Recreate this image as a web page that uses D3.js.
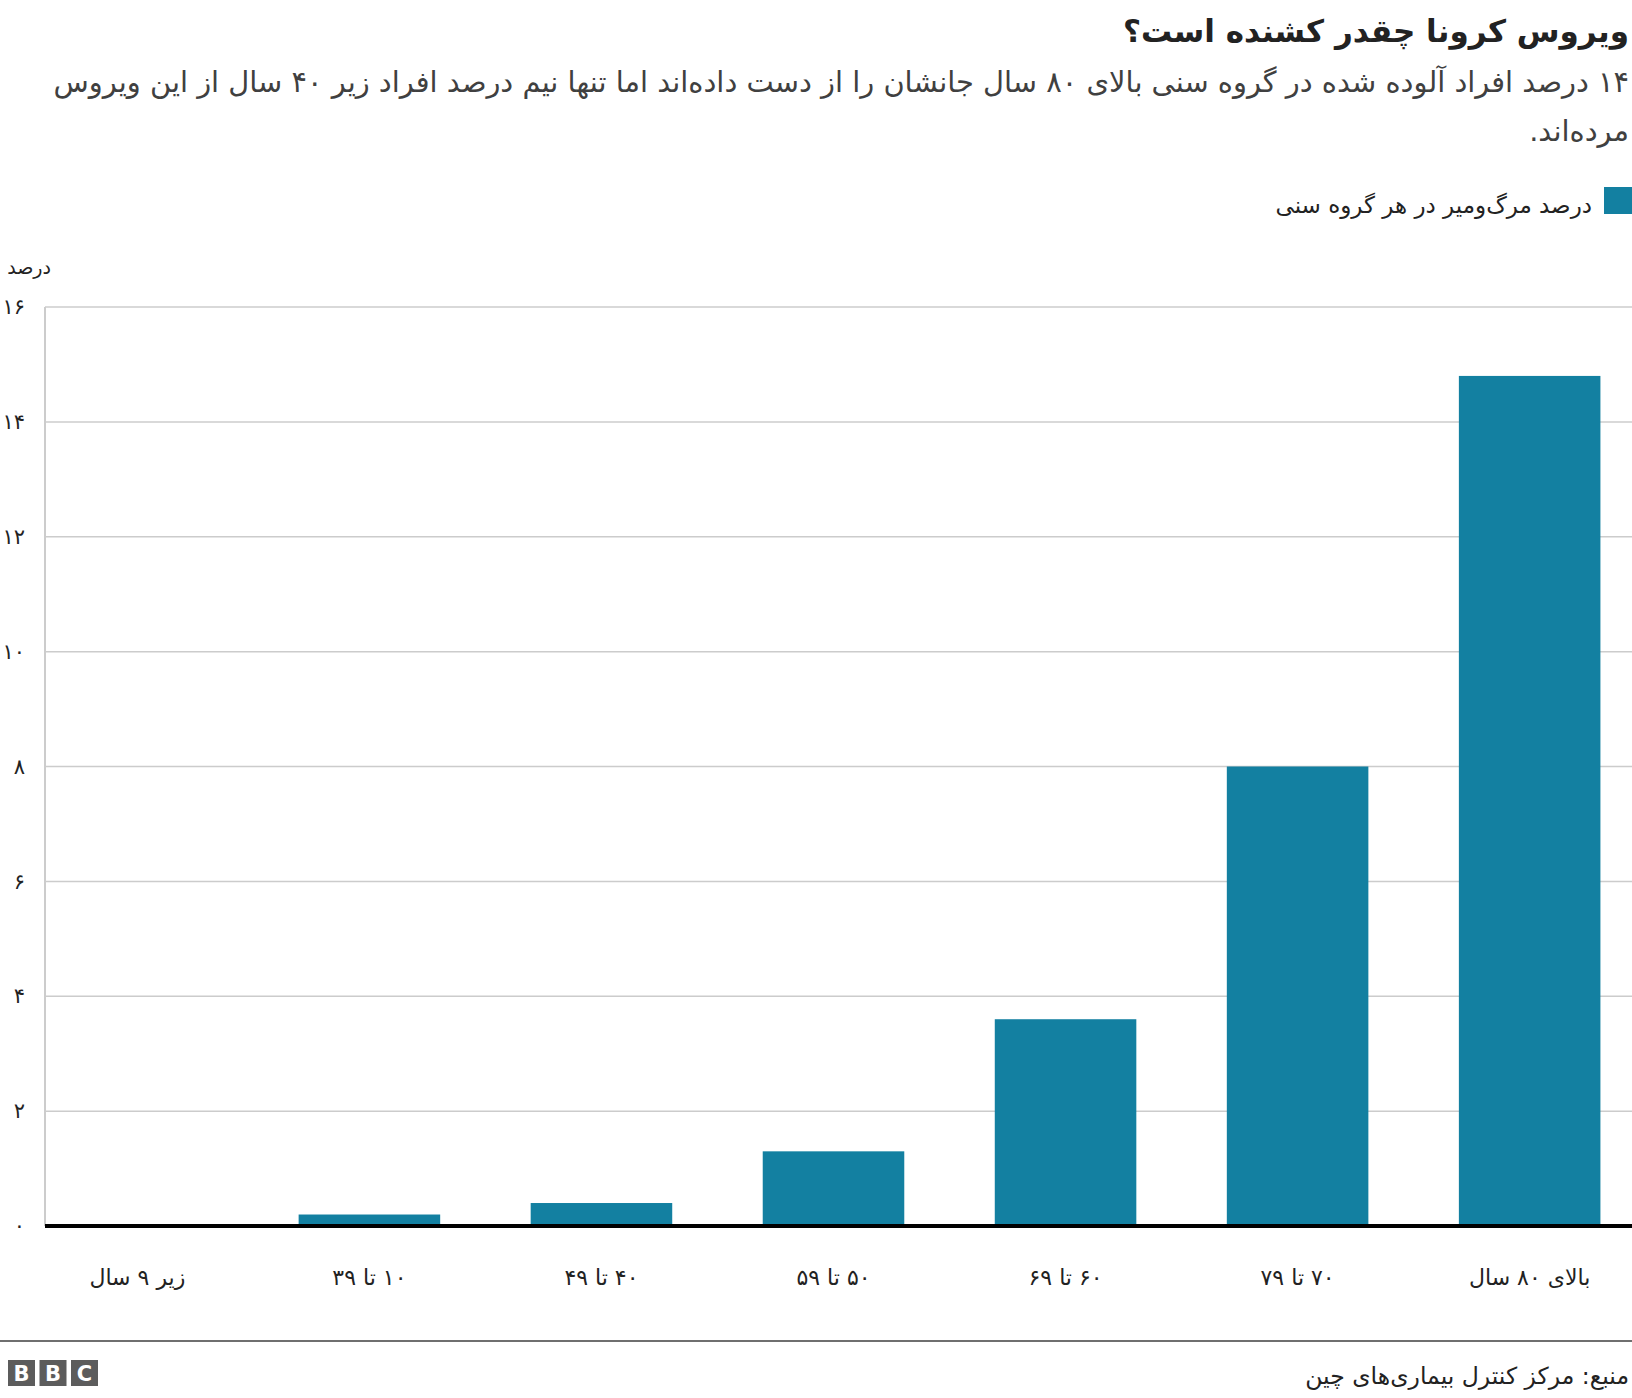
<!DOCTYPE html>
<html lang="fa">
<head>
<meta charset="utf-8">
<script src="https://cdn.jsdelivr.net/npm/d3@7"></script>
<style>
  body { margin: 0; background: #fff; }
  svg text { font-family: "DejaVu Sans", sans-serif; }
  .rtl { direction: rtl; unicode-bidi: embed; }
</style>
</head>
<body>
<svg id="chart"></svg>
<script>
// data (China CDC case fatality by age)
const categories = ["زیر ۹ سال", "۱۰ تا ۳۹", "۴۰ تا ۴۹", "۵۰ تا ۵۹", "۶۰ تا ۶۹", "۷۰ تا ۷۹", "بالای ۸۰ سال"];
const deathRates = [0, 0.2, 0.4, 1.3, 3.6, 8.0, 14.8];
const yTicks = [0, 2, 4, 6, 8, 10, 12, 14, 16];

const title = "ویروس کرونا چقدر کشنده است؟";
const subtitleLines = [
    "۱۴ درصد افراد آلوده شده در گروه سنی بالای ۸۰ سال جانشان را از دست داده‌اند اما تنها نیم درصد افراد زیر ۴۰ سال از این ویروس",
    "مرده‌اند."
];
const legendLabel = "درصد مرگ‌ومیر در هر گروه سنی";
const yLabel = "درصد";
const source = "منبع: مرکز کنترل بیماری‌های چین";

const faDigits = n => String(n).replace(/\d/g, d => "۰۱۲۳۴۵۶۷۸۹"[d]);

const svgWidth = 1632, svgHeight = 1398;
const barColor = "#1380a1";

const svg = d3.select("#chart")
    .attr("width", svgWidth)
    .attr("height", svgHeight);

// heading
svg.append("text")
    .attr("class", "rtl")
    .attr("x", 1629)
    .attr("y", 42)
    .attr("text-anchor", "start")
    .attr("font-size", 31)
    .attr("font-weight", "bold")
    .attr("fill", "#222")
    .text(title);

svg.selectAll(".sub")
    .data(subtitleLines)
    .enter().append("text")
    .attr("class", "sub rtl")
    .attr("x", 1629)
    .attr("y", (d, i) => 92 + i * 49)
    .attr("text-anchor", "start")
    .attr("font-size", 28.9)
    .attr("fill", "#404040")
    .text(d => d);

// legend
svg.append("rect")
    .attr("x", 1604)
    .attr("y", 187)
    .attr("width", 28)
    .attr("height", 27)
    .attr("fill", barColor);

svg.append("text")
    .attr("class", "rtl")
    .attr("x", 1592)
    .attr("y", 213)
    .attr("text-anchor", "start")
    .attr("font-size", 23)
    .attr("fill", "#222")
    .text(legendLabel);

// plot
const x = d3.scaleBand()
    .domain(categories)
    .range([45, 1622])
    .paddingInner(0.39)
    .paddingOuter(0.093);

const y = d3.scaleLinear()
    .domain([0, 16])
    .range([1226, 307]);

const gridRight = 1632, plotLeft = 45;

svg.append("g")
    .selectAll("line")
    .data(yTicks.filter(t => t > 0))
    .enter().append("line")
    .attr("x1", plotLeft)
    .attr("x2", gridRight)
    .attr("y1", d => y(d))
    .attr("y2", d => y(d))
    .attr("stroke", "#cccccc")
    .attr("stroke-width", 1.5);

// y axis line
svg.append("line")
    .attr("x1", plotLeft)
    .attr("x2", plotLeft)
    .attr("y1", y(16))
    .attr("y2", y(0))
    .attr("stroke", "#cccccc")
    .attr("stroke-width", 2);

const yAxis = svg.append("g")
    .attr("transform", "translate(25,0)")
    .call(d3.axisLeft(y).tickValues(yTicks).tickSize(0).tickPadding(0).tickFormat(faDigits));
yAxis.select(".domain").remove();
yAxis.selectAll("text")
    .attr("font-family", "DejaVu Sans, sans-serif")
    .attr("font-size", 21)
    .attr("fill", "#222");

svg.append("text")
    .attr("class", "rtl")
    .attr("x", 51)
    .attr("y", 274)
    .attr("text-anchor", "start")
    .attr("font-size", 19)
    .attr("fill", "#222")
    .text(yLabel);

svg.append("g")
    .selectAll("rect")
    .data(deathRates)
    .enter().append("rect")
    .attr("x", (d, i) => x(categories[i]))
    .attr("width", x.bandwidth())
    .attr("y", d => y(d))
    .attr("height", d => y(0) - y(d))
    .attr("fill", barColor);

// baseline
svg.append("line")
    .attr("x1", plotLeft)
    .attr("x2", gridRight)
    .attr("y1", y(0))
    .attr("y2", y(0))
    .attr("stroke", "#000")
    .attr("stroke-width", 4);

const xAxis = svg.append("g")
    .attr("transform", "translate(0," + y(0) + ")")
    .call(d3.axisBottom(x).tickSize(0).tickPadding(43));
xAxis.select(".domain").remove();
xAxis.selectAll("text")
    .attr("font-family", "DejaVu Sans, sans-serif")
    .attr("font-size", 22)
    .attr("fill", "#222")
    .style("direction", "rtl");

// footer
svg.append("line")
    .attr("x1", 0)
    .attr("x2", svgWidth)
    .attr("y1", 1341)
    .attr("y2", 1341)
    .attr("stroke", "#6f6f6f")
    .attr("stroke-width", 2);

const logo = svg.append("g").attr("transform", "translate(8,1360)");
["B", "B", "C"].forEach((c, i) => {
    logo.append("rect")
        .attr("x", i * 31.5)
        .attr("width", 27)
        .attr("height", 26)
        .attr("fill", "#5c5c5c");
    logo.append("text")
        .attr("x", i * 31.5 + 13.5)
        .attr("y", 21)
        .attr("text-anchor", "middle")
        .attr("font-family", "Liberation Sans, sans-serif")
        .attr("font-weight", "bold")
        .attr("font-size", 21)
        .attr("fill", "#fff")
        .text(c);
});

svg.append("text")
    .attr("class", "rtl")
    .attr("x", 1629)
    .attr("y", 1384)
    .attr("text-anchor", "start")
    .attr("font-size", 23.5)
    .attr("fill", "#222")
    .text(source);
</script>
</body>
</html>
